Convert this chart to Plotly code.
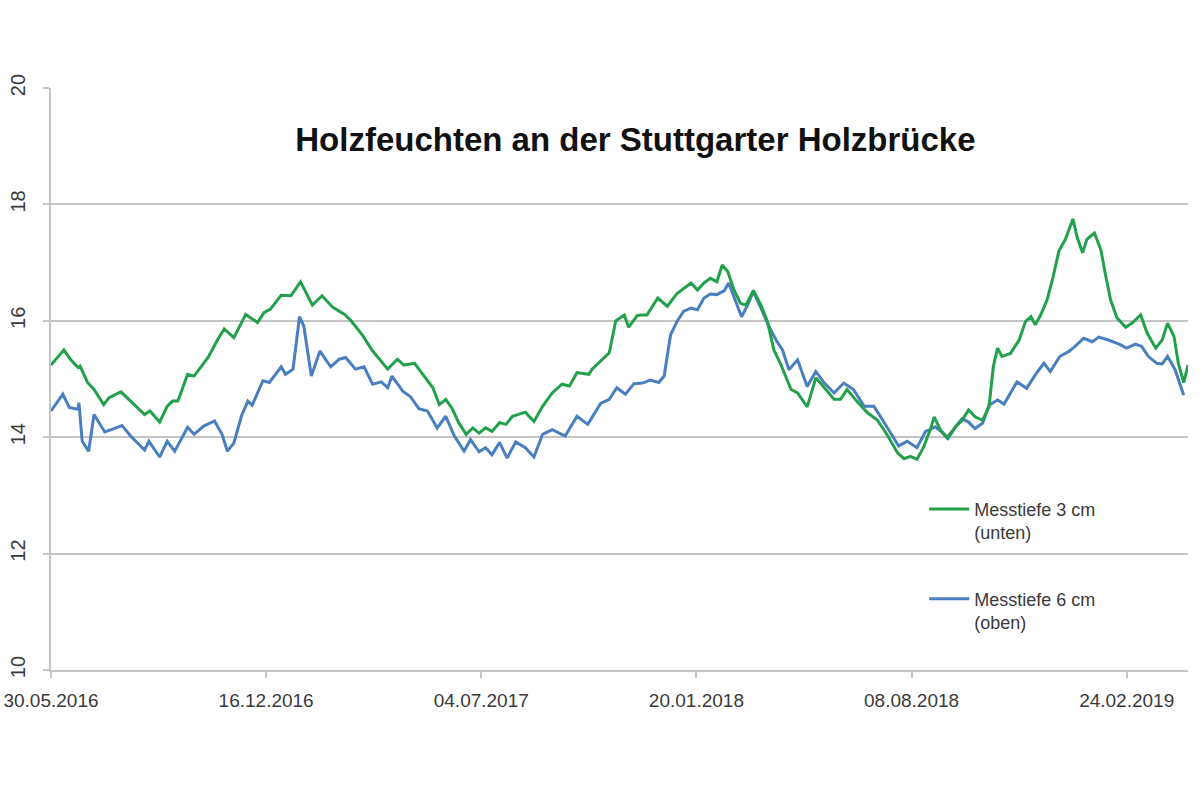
import pandas as pd
import plotly.graph_objects as go

start_date = "2016-05-30"

# Messtiefe 3 cm (unten) – days since start, moisture %
green_days = [0, 12, 18, 25, 27, 34, 40, 49, 54, 65, 74, 87, 92, 101, 108, 113, 118, 127, 133, 146,
              155, 161, 170, 181, 192, 198, 204, 214, 223, 232, 243, 252, 262, 273, 279, 290, 299, 313,
              322, 328, 338, 347, 355, 361, 367, 373, 379, 386, 392, 398, 404, 410, 417, 423, 429, 441,
              449, 457, 466, 475, 482, 489, 500, 503, 513, 519, 525, 533, 537, 545, 548, 554, 564, 573,
              582, 588, 595, 601, 607, 613, 619, 624, 629, 635, 641, 646, 653, 660, 666, 672, 678, 688,
              694, 703, 711, 719, 728, 734, 740, 749, 759, 768, 777, 787, 793, 799, 805, 811, 818, 821,
              827, 833, 841, 847, 853, 859, 866, 872, 876, 880, 884, 892, 900, 906, 911, 915, 920, 926,
              931, 937, 943, 950, 954, 959, 963, 970, 976, 980, 985, 991, 999, 1005, 1013, 1019, 1027,
              1033, 1038, 1044, 1048, 1053, 1057]
green_vals = [15.24, 15.50, 15.34, 15.20, 15.22, 14.94, 14.82, 14.56, 14.68, 14.78, 14.62, 14.39, 14.45,
              14.26, 14.53, 14.62, 14.62, 15.08, 15.05, 15.37, 15.68, 15.86, 15.71, 16.11, 15.97, 16.14,
              16.20, 16.44, 16.43, 16.67, 16.27, 16.43, 16.23, 16.11, 16.00, 15.74, 15.48, 15.17, 15.34,
              15.24, 15.27, 15.05, 14.85, 14.56, 14.65, 14.49, 14.25, 14.05, 14.16, 14.07, 14.16, 14.10,
              14.25, 14.22, 14.36, 14.43, 14.27, 14.53, 14.76, 14.91, 14.88, 15.11, 15.08, 15.17, 15.34,
              15.45, 16.00, 16.10, 15.89, 16.09, 16.10, 16.10, 16.39, 16.25, 16.47, 16.56, 16.65, 16.53,
              16.65, 16.73, 16.67, 16.96, 16.85, 16.53, 16.30, 16.27, 16.52, 16.27, 15.99, 15.50, 15.27,
              14.82, 14.76, 14.52, 15.02, 14.85, 14.65, 14.65, 14.82, 14.62, 14.42, 14.30, 14.05, 13.73,
              13.63, 13.67, 13.62, 13.82, 14.16, 14.35, 14.12, 13.99, 14.18, 14.29, 14.47, 14.35, 14.29,
              14.52, 15.21, 15.53, 15.39, 15.44, 15.67, 15.99, 16.07, 15.93, 16.10, 16.36, 16.71, 17.20,
              17.40, 17.75, 17.43, 17.17, 17.40, 17.51, 17.22, 16.82, 16.36, 16.05, 15.89, 15.96, 16.10,
              15.79, 15.53, 15.67, 15.96, 15.73, 15.27, 14.94, 15.24]

# Messtiefe 6 cm (oben)
blue_days = [0, 11, 17, 25, 26, 29, 35, 40, 43, 50, 56, 66, 74, 87, 91, 101, 108, 115, 127, 133, 142,
             152, 159, 164, 170, 177, 183, 187, 197, 203, 214, 218, 225, 231, 235, 242, 250, 260, 268,
             274, 283, 291, 299, 307, 313, 317, 327, 334, 342, 350, 359, 367, 375, 384, 390, 398, 404,
             410, 417, 424, 432, 441, 449, 457, 466, 478, 489, 499, 511, 519, 526, 534, 542, 550, 557,
             565, 570, 576, 582, 588, 595, 601, 607, 613, 619, 626, 630, 635, 642, 647, 653, 660, 666,
             674, 680, 686, 694, 703, 711, 719, 728, 737, 746, 756, 765, 774, 782, 788, 796, 805, 813,
             816, 822, 828, 834, 841, 847, 853, 859, 866, 872, 880, 886, 898, 907, 915, 923, 929, 938,
             946, 952, 960, 968, 974, 983, 993, 1000, 1008, 1014, 1020, 1028, 1033, 1038, 1045, 1053]
blue_vals = [14.45, 14.74, 14.51, 14.48, 14.59, 13.93, 13.76, 14.39, 14.30, 14.09, 14.13, 14.20, 14.02,
             13.78, 13.93, 13.66, 13.93, 13.76, 14.17, 14.05, 14.19, 14.28, 14.05, 13.76, 13.90, 14.36,
             14.62, 14.55, 14.97, 14.94, 15.21, 15.08, 15.17, 16.07, 15.91, 15.05, 15.48, 15.21, 15.34,
             15.37, 15.17, 15.21, 14.91, 14.95, 14.85, 15.05, 14.79, 14.70, 14.49, 14.45, 14.16, 14.36,
             14.02, 13.76, 13.96, 13.75, 13.82, 13.70, 13.91, 13.64, 13.92, 13.82, 13.66, 14.05, 14.13,
             14.02, 14.36, 14.22, 14.58, 14.65, 14.85, 14.74, 14.92, 14.93, 14.98, 14.94, 15.05, 15.76,
             15.99, 16.16, 16.22, 16.19, 16.39, 16.46, 16.45, 16.52, 16.65, 16.42, 16.07, 16.25, 16.50,
             16.22, 15.96, 15.67, 15.50, 15.16, 15.33, 14.87, 15.13, 14.93, 14.76, 14.93, 14.82, 14.53,
             14.53, 14.27, 14.02, 13.85, 13.93, 13.82, 14.10, 14.12, 14.18, 14.09, 13.98, 14.18, 14.32,
             14.26, 14.15, 14.24, 14.55, 14.64, 14.57, 14.95, 14.84, 15.07, 15.27, 15.13, 15.39, 15.47,
             15.56, 15.70, 15.64, 15.72, 15.67, 15.60, 15.53, 15.60, 15.56, 15.39, 15.27, 15.26, 15.39,
             15.16, 14.72]

tick_dates = ["2016-05-30", "2016-12-16", "2017-07-04", "2018-01-20", "2018-08-08", "2019-02-24"]
tick_labels = ["30.05.2016", "16.12.2016", "04.07.2017", "20.01.2018", "08.08.2018", "24.02.2019"]
y_ticks = [10, 12, 14, 16, 18, 20]

title_text = "Holzfeuchten an der Stuttgarter Holzbrücke"
name_green = "Messtiefe 3 cm<br>(unten)"
name_blue = "Messtiefe 6 cm<br>(oben)"

t0 = pd.Timestamp(start_date)
gx = t0 + pd.to_timedelta(green_days, unit="D")
bx = t0 + pd.to_timedelta(blue_days, unit="D")

GREEN = "#22a04b"
BLUE = "#4a7fbf"
GRID = "#c4c4c4"
TXT = "#3a3a3a"
FONT = "Liberation Sans"

fig = go.Figure()
fig.add_trace(go.Scatter(x=bx, y=blue_vals, mode="lines", name=name_blue,
                         line=dict(color=BLUE, width=3), legendgroup="b", legendrank=2))
fig.add_trace(go.Scatter(x=gx, y=green_vals, mode="lines", name=name_green,
                         line=dict(color=GREEN, width=3), legendgroup="g", legendrank=1))

fig.update_layout(
    width=1200, height=801,
    margin=dict(l=51, r=12, t=88, b=131, autoexpand=False),
    paper_bgcolor="white", plot_bgcolor="white",
    font=dict(family=FONT, color=TXT),
    title=dict(text=title_text, x=0.514, xanchor="center", xref="paper",
               y=0.911, yref="paper", yanchor="middle",
               font=dict(family=FONT, size=33, color="#111111", weight="bold")),
    showlegend=True,
    legend=dict(x=0.768, y=0.308, xanchor="left", yanchor="top",
                bgcolor="rgba(0,0,0,0)", borderwidth=0,
                font=dict(family=FONT, size=18, color=TXT),
                traceorder="grouped", tracegroupgap=40, valign="top",
                itemwidth=40),
)

fig.update_xaxes(
    type="date", automargin=False,
    range=[t0, t0 + pd.Timedelta(days=1057)],
    tickmode="array", tickvals=tick_dates, ticktext=tick_labels,
    showgrid=False, showline=True, linecolor=GRID, linewidth=2,
    ticks="outside", ticklen=6, tickcolor=GRID, tickwidth=2,
    tickfont=dict(family=FONT, size=19, color=TXT),
    ticklabelstandoff=6, ticklabeloverflow="allow",
    zeroline=False,
)
fig.update_yaxes(
    range=[10, 20], tickmode="array", tickvals=y_ticks, automargin=False,
    showgrid=True, gridcolor=GRID, gridwidth=2,
    showline=True, linecolor=GRID, linewidth=2,
    ticks="outside", ticklen=6, tickcolor=GRID, tickwidth=2,
    tickangle=-90,
    tickfont=dict(family=FONT, size=20, color=TXT),
    ticklabelstandoff=10, ticklabeloverflow="allow",
    zeroline=False,
)

# remove the browser's default 8px body margin so the figure fills the window exactly
fig.write_html("out.html", config={"displayModeBar": False},
               post_script="document.body.style.margin='0';")
